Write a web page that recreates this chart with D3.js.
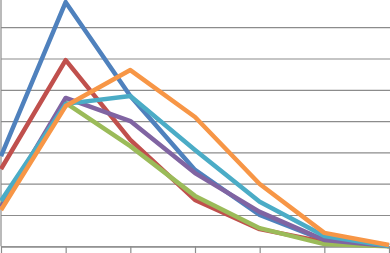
<!DOCTYPE html>
<html>
<head>
<meta charset="utf-8">
<script src="https://cdn.jsdelivr.net/npm/d3@7"></script>
<style>
  html, body { margin: 0; padding: 0; background: #fff; overflow: hidden; }
  .grid line { stroke: #8c8c8c; stroke-width: 1.2; }
  .grid path { display: none; }
  .x.axis line, .x.axis path { stroke: #8c8c8c; stroke-width: 1.2; }
  .line { fill: none; stroke-width: 4.5; stroke-linejoin: round; stroke-linecap: butt; }
</style>
</head>
<body>
<script>
var categories = ["1", "2", "3", "4", "5", "6", "7"];
var blue   = [28.8, 78.0, 48.0, 24.4, 10.0, 2.0, 0.1];
var red    = [24.7, 59.5, 34.0, 14.8, 5.5, 1.4, 0.1];
var green  = [12.9, 45.8, 32.0, 16.1, 5.8, 0.7, 0.0];
var purple = [12.6, 47.4, 40.0, 23.4, 11.0, 2.0, 0.1];
var teal   = [14.5, 45.5, 48.0, 30.8, 14.2, 3.3, 0.1];
var orange = [11.6, 44.8, 56.3, 41.3, 19.9, 4.3, 0.4];
var yTicks = [0, 10, 20, 30, 40, 50, 60, 70, 80];

var series = [
    { name: "blue", values: blue, color: "#4f81bd" },
    { name: "red", values: red, color: "#c0504d" },
    { name: "green", values: green, color: "#9bbb59" },
    { name: "purple", values: purple, color: "#8064a2" },
    { name: "teal", values: teal, color: "#4bacc6" },
    { name: "orange", values: orange, color: "#f79646" }
];

var width = 390;
var height = 253;
var plotLeft = 1;
var plotRight = 389;
var plotBottom = 246.3;
var step = 31.3;

var xScale = d3.scalePoint()
    .domain(categories)
    .range([plotLeft, plotRight]);

var yScale = d3.scaleLinear()
    .domain([0, 80])
    .range([plotBottom, plotBottom - 8 * step]);

var svg = d3.select("body").append("svg")
    .attr("width", width)
    .attr("height", height);

// horizontal gridlines
svg.append("g")
    .attr("class", "grid")
    .attr("transform", "translate(" + plotLeft + ",0)")
    .call(d3.axisLeft(yScale)
        .tickValues(yTicks)
        .tickSize(-(plotRight - plotLeft + 2))
        .tickFormat(""));

// left axis line
svg.append("line")
    .attr("x1", plotLeft).attr("x2", plotLeft)
    .attr("y1", 0).attr("y2", plotBottom)
    .attr("stroke", "#8c8c8c")
    .attr("stroke-width", 1.2);

// bottom category axis with tick marks
svg.append("g")
    .attr("class", "x axis")
    .attr("transform", "translate(0," + plotBottom + ")")
    .call(d3.axisBottom(xScale)
        .tickSizeInner(7)
        .tickSizeOuter(0)
        .tickFormat(""));

var d3line = d3.line()
    .x(function(d, i) { return xScale(categories[i]); })
    .y(function(d) { return yScale(d); });

svg.selectAll("path.line")
    .data(series)
    .enter().append("path")
    .attr("class", "line")
    .attr("stroke", function(d) { return d.color; })
    .attr("d", function(d) { return d3line(d.values); });
</script>
</body>
</html>
